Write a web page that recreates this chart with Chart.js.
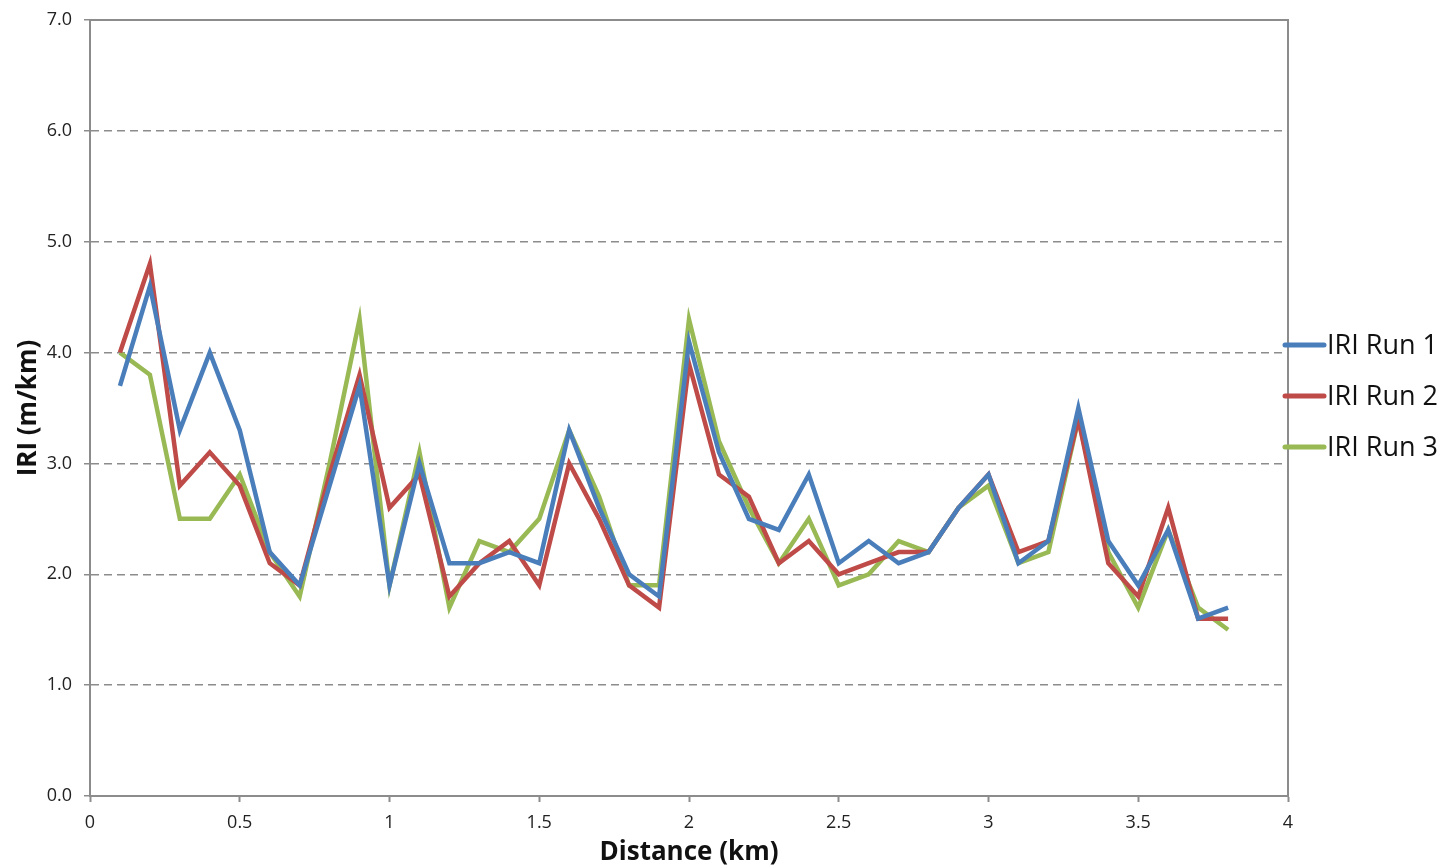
<!DOCTYPE html>
<html>
<head>
<meta charset="utf-8">
<script src="https://cdn.jsdelivr.net/npm/chart.js@4"></script>
<style>
  html, body { margin: 0; padding: 0; background: #fff; }
  #wrap { width: 1450px; height: 868px; }
</style>
</head>
<body>
<div id="wrap"><canvas id="iri"></canvas></div>
<script>
// distance along the section (km)
const distance = [0.1, 0.2, 0.3, 0.4, 0.5, 0.6, 0.7, 0.8, 0.9, 1.0,
  1.1, 1.2, 1.3, 1.4, 1.5, 1.6, 1.7, 1.8, 1.9, 2.0,
  2.1, 2.2, 2.3, 2.4, 2.5, 2.6, 2.7, 2.8, 2.9, 3.0,
  3.1, 3.2, 3.3, 3.4, 3.5, 3.6, 3.7, 3.8];

const run1 = [3.7, 4.6, 3.3, 4.0, 3.3, 2.2, 1.9, 2.8, 3.7, 1.9,
  3.0, 2.1, 2.1, 2.2, 2.1, 3.3, 2.6, 2.0, 1.8, 4.1,
  3.1, 2.5, 2.4, 2.9, 2.1, 2.3, 2.1, 2.2, 2.6, 2.9,
  2.1, 2.3, 3.5, 2.3, 1.9, 2.4, 1.6, 1.7];

const run2 = [4.0, 4.8, 2.8, 3.1, 2.8, 2.1, 1.9, 2.9, 3.8, 2.6,
  2.9, 1.8, 2.1, 2.3, 1.9, 3.0, 2.5, 1.9, 1.7, 3.9,
  2.9, 2.7, 2.1, 2.3, 2.0, 2.1, 2.2, 2.2, 2.6, 2.9,
  2.2, 2.3, 3.4, 2.1, 1.8, 2.6, 1.6, 1.6];

const run3 = [4.0, 3.8, 2.5, 2.5, 2.9, 2.2, 1.8, 3.0, 4.3, 1.9,
  3.1, 1.7, 2.3, 2.2, 2.5, 3.3, 2.7, 1.9, 1.9, 4.3,
  3.2, 2.6, 2.1, 2.5, 1.9, 2.0, 2.3, 2.2, 2.6, 2.8,
  2.1, 2.2, 3.4, 2.2, 1.7, 2.4, 1.7, 1.5];

const seriesNames = ['IRI Run 1', 'IRI Run 2', 'IRI Run 3'];
const seriesColors = ['#4a7ebb', '#be4b48', '#98b954'];

const FONT = '"Open Sans", "Noto Sans", sans-serif';
const AXIS_GREY = '#8c8c8c';

function toPoints(values) {
  return distance.map((d, i) => ({ x: d, y: values[i] }));
}

// frame round the plot area + legend at its right side
const frameAndLegend = {
  id: 'frameAndLegend',
  afterDatasetsDraw(chart) {
    const { ctx, chartArea } = chart;
    ctx.save();
    ctx.strokeStyle = AXIS_GREY;
    ctx.lineWidth = 2;
    ctx.beginPath();
    ctx.moveTo(chartArea.left, chartArea.top);
    ctx.lineTo(chartArea.right, chartArea.top);
    ctx.lineTo(chartArea.right, chartArea.bottom);
    ctx.stroke();

    const midY = (chartArea.top + chartArea.bottom) / 2;
    const gap = 51;
    ctx.font = '27px ' + FONT;
    ctx.textBaseline = 'middle';
    ctx.fillStyle = '#111';
    chart.data.datasets.forEach((ds, i) => {
      const y = midY - gap - 12 + i * gap;
      const x0 = chartArea.right - 3;
      ctx.strokeStyle = ds.borderColor;
      ctx.lineWidth = 5;
      ctx.lineCap = 'round';
      ctx.beginPath();
      ctx.moveTo(x0, y);
      ctx.lineTo(x0 + 39, y);
      ctx.stroke();
      ctx.fillText(ds.label, x0 + 42, y + 1);
    });
    ctx.restore();
  }
};

const chart = new Chart(document.getElementById('iri').getContext('2d'), {
  type: 'line',
  data: {
    datasets: [
      { label: seriesNames[0], data: toPoints(run1), borderColor: seriesColors[0] },
      { label: seriesNames[1], data: toPoints(run2), borderColor: seriesColors[1] },
      { label: seriesNames[2], data: toPoints(run3), borderColor: seriesColors[2] },
    ].map(ds => Object.assign(ds, {
      borderWidth: 4.5,
      pointRadius: 0,
      tension: 0,
      fill: false,
      borderJoinStyle: 'miter',
    })),
  },
  options: {
    responsive: true,
    maintainAspectRatio: false,
    animation: false,
    layout: { padding: { top: 20, right: 162, left: 0, bottom: 0 } },
    plugins: {
      legend: { display: false },
      tooltip: { enabled: false },
    },
    scales: {
      x: {
        type: 'linear',
        min: 0,
        max: 4,
        ticks: {
          stepSize: 0.5,
          color: '#222',
          font: { family: FONT, size: 18 },
          padding: 10,
          maxRotation: 0,
          callback: (v) => String(v),
        },
        grid: {
          drawOnChartArea: false,
          drawTicks: true,
          tickLength: 6,
          tickColor: AXIS_GREY,
          tickWidth: 2,
        },
        border: { color: AXIS_GREY, width: 2 },
        title: {
          display: true,
          text: 'Distance (km)',
          color: '#111',
          font: { family: FONT, size: 26, weight: 'bold' },
          padding: { top: 0, bottom: 0 },
        },
        afterFit(scale) {
          scale.height = 72;
          scale.paddingRight = 0;
        },
      },
      y: {
        min: 0,
        max: 7,
        ticks: {
          stepSize: 1,
          color: '#222',
          font: { family: FONT, size: 18 },
          padding: 12,
          callback: (v) => v.toFixed(1),
        },
        grid: {
          color: AXIS_GREY,
          lineWidth: 1.5,
          tickLength: 6,
          tickColor: AXIS_GREY,
          tickWidth: 1.5,
          tickBorderDash: [],
        },
        border: { color: AXIS_GREY, width: 2, dash: [8, 5] },
        title: {
          display: true,
          text: 'IRI (m/km)',
          color: '#111',
          font: { family: FONT, size: 26, weight: 'bold' },
          padding: { top: 13, bottom: 0 },
        },
        afterFit(scale) {
          scale.width = 90;
          scale.paddingTop = 0;
          scale.paddingBottom = 0;
        },
      },
    },
  },
  plugins: [frameAndLegend],
});
</script>
</body>
</html>
